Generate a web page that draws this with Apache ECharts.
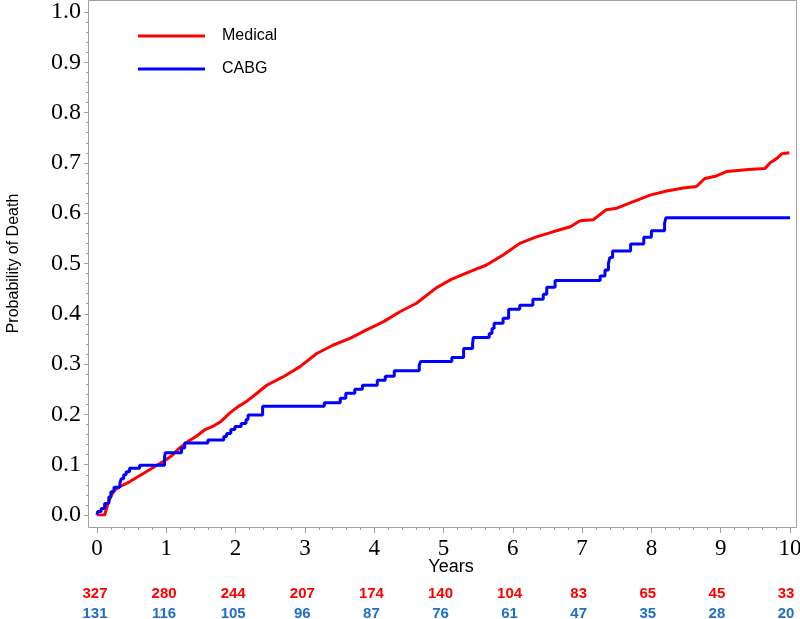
<!DOCTYPE html>
<html>
<head>
<meta charset="utf-8">
<script src="https://cdn.jsdelivr.net/npm/echarts@6/dist/echarts.min.js"></script>
<style>html,body{margin:0;padding:0;background:#fff}#c{width:800px;height:619px}</style>
</head>
<body>
<div id="c"></div>
<script>
// Medical (red) cumulative probability of death
const medicalTimes = [0, 0.11, 0.16, 0.21, 0.255, 0.35, 0.47, 0.59, 0.71, 0.83, 0.95, 1.07, 1.19, 1.31, 1.43, 1.55, 1.67, 1.79, 1.91, 2.03, 2.15, 2.28, 2.45, 2.69, 2.93, 3.17, 3.41, 3.65, 3.89, 4.13, 4.37, 4.61, 4.90, 5.12, 5.38, 5.62, 5.86, 6.10, 6.34, 6.58, 6.83, 6.97, 7.16, 7.35, 7.50, 7.74, 7.98, 8.22, 8.46, 8.65, 8.77, 8.94, 9.09, 9.40, 9.64, 9.71, 9.81, 9.88, 9.99];
const medicalProb  = [0, 0, 0.023, 0.040, 0.050, 0.058, 0.066, 0.076, 0.086, 0.096, 0.106, 0.117, 0.133, 0.146, 0.156, 0.169, 0.176, 0.186, 0.202, 0.215, 0.225, 0.239, 0.258, 0.275, 0.295, 0.321, 0.338, 0.351, 0.368, 0.384, 0.404, 0.421, 0.452, 0.469, 0.484, 0.497, 0.517, 0.540, 0.553, 0.563, 0.573, 0.585, 0.587, 0.607, 0.610, 0.623, 0.636, 0.644, 0.650, 0.653, 0.669, 0.674, 0.683, 0.687, 0.689, 0.700, 0.709, 0.718, 0.720];

// CABG (blue) Kaplan-Meier steps
const cabgTimes = [0, 0.01, 0.06, 0.11, 0.17, 0.20, 0.245, 0.33, 0.35, 0.385, 0.42, 0.47, 0.615, 0.975, 0.985, 1.22, 1.265, 1.60, 1.83, 1.87, 1.93, 1.99, 2.08, 2.15, 2.18, 2.39, 3.28, 3.51, 3.59, 3.72, 3.83, 4.045, 4.16, 4.29, 4.65, 4.67, 5.12, 5.29, 5.42, 5.43, 5.66, 5.70, 5.73, 5.86, 5.94, 6.10, 6.29, 6.44, 6.49, 6.61, 7.26, 7.33, 7.38, 7.40, 7.44, 7.70, 7.89, 8.00, 8.19, 8.21, 10.0];
const cabgProb  = [0, 0.007, 0.013, 0.023, 0.036, 0.046, 0.055, 0.063, 0.072, 0.080, 0.086, 0.093, 0.099, 0.115, 0.124, 0.133, 0.143, 0.149, 0.156, 0.162, 0.170, 0.176, 0.182, 0.190, 0.199, 0.216, 0.223, 0.232, 0.242, 0.250, 0.258, 0.268, 0.276, 0.287, 0.298, 0.305, 0.313, 0.331, 0.341, 0.353, 0.361, 0.371, 0.381, 0.391, 0.409, 0.417, 0.429, 0.439, 0.453, 0.466, 0.475, 0.487, 0.500, 0.512, 0.525, 0.539, 0.552, 0.565, 0.580, 0.591, 0.591];

// Numbers at risk
const riskYears = [0, 1, 2, 3, 4, 5, 6, 7, 8, 9, 10];
const medicalAtRisk = [327, 280, 244, 207, 174, 140, 104, 83, 65, 45, 33];
const cabgAtRisk = [131, 116, 105, 96, 87, 76, 61, 47, 35, 28, 20];

const gray = '#a0a0a0';
const chart = echarts.init(document.getElementById('c'));
const zip = (a, b) => a.map((v, i) => [v, b[i]]);

chart.setOption({
  animation: false,
  grid: [
    {left: 97, top: 12, width: 693, height: 503, containLabel: false, outerBoundsMode: 'none'},
    {left: 95, top: 12, width: 691, height: 503, containLabel: false, outerBoundsMode: 'none'}
  ],
  graphic: [{
    type: 'rect', silent: true, z: 0,
    shape: {x: 88.5, y: 0.5, width: 708, height: 527},
    style: {fill: 'none', stroke: gray, lineWidth: 1}
  }],
  legend: {
    data: ['Medical', 'CABG'],
    orient: 'vertical', left: 133, top: 21,
    itemWidth: 67, itemHeight: 3, icon: 'rect', itemGap: 13,
    textStyle: {fontSize: 16, fontFamily: 'Liberation Sans', color: '#000', padding: [0, 0, 0, 12], lineHeight: 20}
  },
  xAxis: [
    {
      gridIndex: 0, type: 'value', min: 0, max: 10, interval: 1, offset: 12,
      axisLine: {show: false, onZero: false},
      axisTick: {show: true, length: 6, lineStyle: {color: gray}},
      minorTick: {show: true, splitNumber: 5, length: 3, lineStyle: {color: gray}},
      splitLine: {show: false},
      axisLabel: {fontFamily: 'Liberation Serif', fontSize: 23, color: '#000', margin: 10},
      name: 'Years', nameLocation: 'middle', nameGap: 31, nameMoveOverlap: false,
      nameTextStyle: {fontFamily: 'Liberation Sans', fontSize: 18, color: '#000', padding: [0, 0, 0, 15]}
    },
    {
      gridIndex: 1, type: 'value', position: 'bottom', min: 0, max: 10, interval: 1, offset: 71,
      axisLine: {show: false, onZero: false}, axisTick: {show: false}, splitLine: {show: false},
      axisLabel: {
        formatter: v => { const i = riskYears.indexOf(v); return i < 0 ? '' : String(medicalAtRisk[i]); },
        color: '#ff0000', fontWeight: 'bold', fontSize: 15, fontFamily: 'Liberation Sans', margin: 0
      }
    },
    {
      gridIndex: 1, type: 'value', position: 'bottom', min: 0, max: 10, interval: 1, offset: 91,
      axisLine: {show: false, onZero: false}, axisTick: {show: false}, splitLine: {show: false},
      axisLabel: {
        formatter: v => { const i = riskYears.indexOf(v); return i < 0 ? '' : String(cabgAtRisk[i]); },
        color: '#1f6fc5', fontWeight: 'bold', fontSize: 15, fontFamily: 'Liberation Sans', margin: 0
      }
    }
  ],
  yAxis: [
    {
      gridIndex: 0, type: 'value', min: 0, max: 1, interval: 0.1, offset: 9,
      axisLine: {show: false, onZero: false},
      axisTick: {show: true, length: 4, lineStyle: {color: gray}},
      minorTick: {show: true, splitNumber: 5, length: 2, lineStyle: {color: gray}},
      splitLine: {show: false},
      axisLabel: {fontFamily: 'Liberation Serif', fontSize: 24, color: '#000', margin: 7, formatter: v => v.toFixed(1)},
      name: 'Probability of Death', nameLocation: 'middle', nameGap: 66, nameMoveOverlap: false,
      nameTextStyle: {fontFamily: 'Liberation Sans', fontSize: 16, color: '#000'}
    },
    {gridIndex: 1, type: 'value', min: 0, max: 1, show: false}
  ],
  series: [
    {
      name: 'Medical', type: 'line', xAxisIndex: 0, yAxisIndex: 0,
      data: zip(medicalTimes, medicalProb), symbol: 'none',
      color: '#ff0000', lineStyle: {width: 3, color: '#ff0000'}, z: 3
    },
    {
      name: 'CABG', type: 'line', step: 'end', xAxisIndex: 0, yAxisIndex: 0,
      data: zip(cabgTimes, cabgProb), symbol: 'none',
      color: '#0000ff', lineStyle: {width: 3, color: '#0000ff'}, z: 4
    }
  ]
});
</script>
</body>
</html>
